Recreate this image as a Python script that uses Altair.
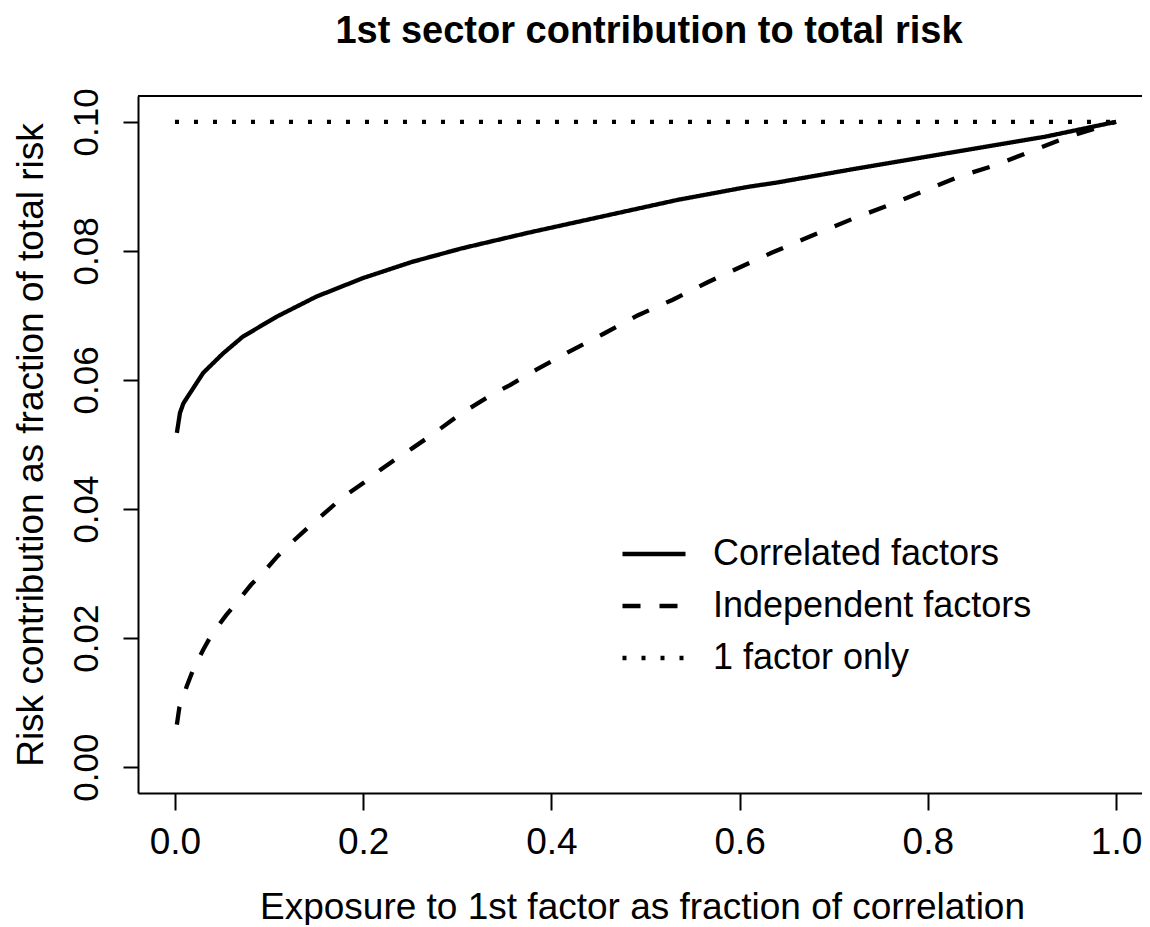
import altair as alt
import pandas as pd

# ---- data ----
series_names = ["Correlated factors", "Independent factors", "1 factor only"]

corr_x = [0.002, 0.0053, 0.009, 0.030, 0.051, 0.072, 0.108, 0.150, 0.200, 0.252,
          0.305, 0.375, 0.428, 0.534, 0.608, 0.640, 0.714, 0.819, 0.925, 1.000]
corr_y = [0.0518, 0.0549, 0.0564, 0.0611, 0.0641, 0.0667, 0.0698, 0.0729, 0.0758, 0.0783,
          0.0804, 0.0828, 0.0845, 0.0879, 0.0899, 0.0906, 0.0925, 0.0951, 0.0977, 0.1000]

ind_x = [0.002, 0.0046, 0.0124, 0.0193, 0.030, 0.0388, 0.0546, 0.065, 0.081, 0.0934,
         0.109, 0.1216, 0.139, 0.153, 0.171, 0.185, 0.2045, 0.2185, 0.238, 0.252,
         0.273, 0.305, 0.340, 0.356, 0.384, 0.419, 0.456, 0.4915, 0.5285, 0.5655,
         0.601, 0.634, 0.6677, 0.7206, 0.759, 0.798, 0.833, 0.872, 0.911, 0.948, 1.000]
ind_y = [0.0066, 0.0092, 0.0125, 0.0151, 0.0182, 0.0205, 0.0236, 0.0254, 0.0283, 0.0301,
         0.0327, 0.0345, 0.0368, 0.0386, 0.0409, 0.0425, 0.0445, 0.0461, 0.0481, 0.0494,
         0.0515, 0.0549, 0.0580, 0.0592, 0.0616, 0.0644, 0.0672, 0.0700, 0.0724, 0.0751,
         0.0775, 0.0797, 0.0818, 0.0850, 0.0871, 0.0894, 0.0915, 0.0933, 0.0955, 0.0976, 0.1000]

one_x = [0.0, 1.0]
one_y = [0.1, 0.1]

x_ticks = [0.0, 0.2, 0.4, 0.6, 0.8, 1.0]
y_ticks = [0.00, 0.02, 0.04, 0.06, 0.08, 0.10]

rows = []
for name, xs, ys in [(series_names[0], corr_x, corr_y),
                     (series_names[1], ind_x, ind_y),
                     (series_names[2], one_x, one_y)]:
    for a, b in zip(xs, ys):
        rows.append({"x": a, "y": b, "series": name})
df = pd.DataFrame(rows)

FONT = "Liberation Sans"
X_DOMAIN = [-0.0393, 1.0276]
Y_DOMAIN = [-0.004, 0.104]

lines = alt.Chart(df).mark_line(strokeWidth=4.3, color="black", strokeCap="butt").encode(
    x=alt.X("x:Q",
            scale=alt.Scale(domain=X_DOMAIN, nice=False, zero=False),
            axis=alt.Axis(values=x_ticks, format=".1f",
                          title="Exposure to 1st factor as fraction of correlation",
                          tickSize=17, labelPadding=43, labelBaseline="alphabetic",
                          labelFontSize=37, titleFontSize=37, labelFlush=False,
                          labelOverlap=False, labelBound=False, titleBaseline="alphabetic",
                          titleAlign="center", titleX=504, titleY=125)),
    y=alt.Y("y:Q",
            scale=alt.Scale(domain=Y_DOMAIN, nice=False, zero=False),
            axis=alt.Axis(values=y_ticks, format=".2f",
                          title="Risk contribution as fraction of total risk",
                          tickSize=15, labelPadding=26, labelAngle=270,
                          labelAlign="center", labelBaseline="alphabetic",
                          labelFontSize=35, titleFontSize=37, labelOverlap=False,
                          titleAngle=270, titleBaseline="alphabetic",
                          titleAlign="center", titleX=-96, titleY=348.5)),
    strokeDash=alt.StrokeDash(
        "series:N",
        scale=alt.Scale(domain=series_names, range=[[1, 0], [18, 19], [4, 15]]),
        legend=alt.Legend(orient="none", legendX=482, legendY=424, title=None,
                          symbolType="stroke", symbolSize=3969, symbolStrokeWidth=4.3,
                          symbolStrokeColor="black", labelFontSize=36, labelOffset=25,
                          rowPadding=-14, padding=0, labelLimit=600, labelColor="black",
                          labelFont=FONT)),
)

# top edge of the plot frame
top_edge = alt.Chart(pd.DataFrame({"top": [Y_DOMAIN[1]]})).mark_rule(
    color="black", strokeWidth=2
).encode(y=alt.Y("top:Q"))

chart = alt.layer(lines, top_edge).properties(
    width=1004, height=697,
    title=alt.TitleParams("1st sector contribution to total risk", fontSize=38,
                          font=FONT, fontWeight="bold", anchor="middle", frame="group",
                          baseline="alphabetic", offset=7, dx=9, color="black"),
    padding={"left": 130, "top": 88, "right": 0, "bottom": 132},
    autosize=alt.AutoSizeParams(type="none"),
).configure(font=FONT).configure_view(
    stroke=None
).configure_axis(
    grid=False, domain=True, domainColor="black", domainWidth=2,
    tickColor="black", tickWidth=2,
    labelColor="black", titleColor="black", titleFontWeight="normal",
    labelFont=FONT, titleFont=FONT
)

chart.save("out.html", embed_options={"renderer": "svg", "actions": False})
